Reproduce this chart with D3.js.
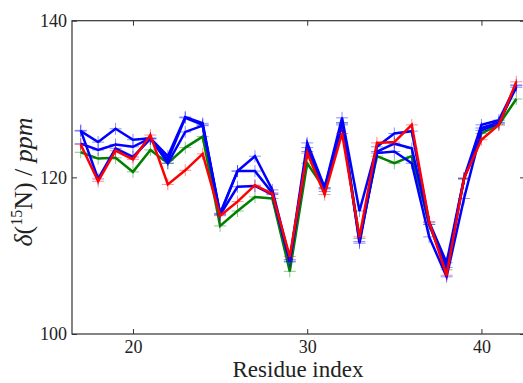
<!DOCTYPE html>
<html><head><meta charset="utf-8">
<script src="https://cdn.jsdelivr.net/npm/d3@7"></script>
<style>body{margin:0;background:#fff;}svg{display:block;}</style>
</head><body>
<script>
const residues = [17,18,19,20,21,22,23,24,25,26,27,28,29,30,31,32,33,34,35,36,37,38,39,40,41,42];
const green = [123.2,122.4,122.5,120.7,123.5,121.8,123.8,125.2,113.8,115.7,117.5,117.3,108.0,121.8,118.5,126.9,112.2,122.7,121.8,122.7,114.0,108.2,119.8,125.6,126.7,130.0];
const blue1 = [125.9,124.5,126.2,124.8,125.0,122.7,127.7,126.9,115.4,120.8,122.7,118.4,109.5,124.4,118.7,127.6,115.7,123.9,125.6,125.9,114.3,109.1,119.9,126.7,127.3,131.8];
const blue2 = [124.3,123.5,124.2,123.9,125.0,121.8,125.8,126.6,115.3,120.8,120.8,118.0,109.3,123.8,118.6,127.0,111.6,123.3,124.3,123.7,114.0,108.5,119.8,126.3,127.0,131.5];
const blue3 = [126.0,119.8,123.7,122.6,124.9,122.2,127.6,126.7,115.2,118.8,118.9,117.8,109.2,123.3,118.2,126.7,111.8,123.1,123.3,121.8,112.4,107.3,117.3,126.0,126.9,131.7];
const red = [124.2,119.5,123.4,122.3,125.4,119.1,120.9,123.0,115.1,116.9,119.0,117.9,109.9,123.1,117.8,125.6,112.4,124.4,124.5,126.7,114.3,107.5,119.9,124.8,126.7,132.2];
const xTicks = [20,30,40];
const yTicks = [100,120,140];

const series = [
  {values: green, color: "#008000"},
  {values: blue1, color: "#0000ff"},
  {values: blue2, color: "#0000ff"},
  {values: blue3, color: "#0000ff"},
  {values: red, color: "#ff0000"}
];

const W = 523, H = 383;
const L = 72, R = 525, T = 20.7, B = 334;
const svg = d3.select("body").append("svg").attr("width", W).attr("height", H);
const x = d3.scaleLinear().domain([16.5, 42.5]).range([L, R]);
const y = d3.scaleLinear().domain([100, 140]).range([B, T]);

const font = "'Liberation Serif', 'DejaVu Serif', serif";

const plot = svg.append("g");
const line = d3.line().x((d,i)=>x(residues[i])).y(d=>y(d));
series.forEach(s => {
  plot.append("path").datum(s.values).attr("d", line)
    .attr("fill","none").attr("stroke", s.color).attr("stroke-width", 2.5)
    .attr("stroke-linejoin","miter");
  const m = plot.append("g");
  s.values.forEach((v,i) => {
    const cx = x(residues[i]), cy = y(v), h = 6;
    m.append("path").attr("d", `M${cx-h},${cy}H${cx+h}M${cx},${cy-h}V${cy+h}`)
      .attr("stroke", s.color).attr("stroke-width", 1).attr("stroke-opacity", 0.45);
  });
});

// frame
svg.append("rect").attr("x", L).attr("y", T).attr("width", R-L).attr("height", B-T)
  .attr("fill","none").attr("stroke","#333").attr("stroke-width",1.2);

// axes with inward ticks
const xAxis = svg.append("g").attr("transform", `translate(0,${B})`)
  .call(d3.axisBottom(x).tickValues(xTicks).tickSize(-5).tickPadding(6).tickFormat(d3.format("d")));
const xAxisTop = svg.append("g").attr("transform", `translate(0,${T})`)
  .call(d3.axisTop(x).tickValues(xTicks).tickSize(-5).tickFormat(""));
const yAxis = svg.append("g").attr("transform", `translate(${L},0)`)
  .call(d3.axisLeft(y).tickValues(yTicks).tickSize(-5).tickPadding(5).tickFormat(d3.format("d")));
const yAxisR = svg.append("g").attr("transform", `translate(${R},0)`)
  .call(d3.axisRight(y).tickValues(yTicks).tickSize(-5).tickFormat(""));
[xAxis, xAxisTop, yAxis, yAxisR].forEach(a => {
  a.select(".domain").remove();
  a.selectAll(".tick line").attr("stroke","#333");
  a.selectAll("text").attr("font-family", font).attr("font-size", 18).attr("fill","#222");
});

svg.append("text").attr("x", 298).attr("y", 377).attr("text-anchor","middle")
  .attr("font-family", font).attr("font-size", 23).attr("fill","#222").text("Residue index");

const yl = svg.append("text").attr("transform", "translate(32,182) rotate(-90)")
  .attr("text-anchor","middle").attr("font-family", font).attr("font-size", 26).attr("fill","#222");
yl.append("tspan").attr("font-style","italic").text("δ");
yl.append("tspan").text("(");
yl.append("tspan").attr("font-size", 16).attr("dy", -10).text("15");
yl.append("tspan").attr("dy", 10).text("N) / ");
yl.append("tspan").attr("font-style","italic").text("ppm");
</script>
</body></html>
